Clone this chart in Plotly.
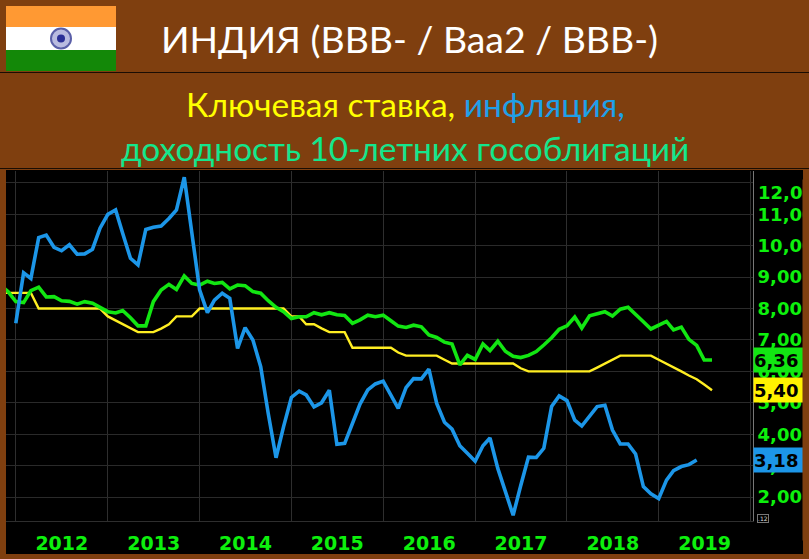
import pandas as pd
import plotly.graph_objects as go

W, H = 809, 559
BROWN = "#7F3F0F"
LINE_GREEN = "#12E612"
LINE_BLUE = "#1C96E8"
LINE_YELLOW = "#FFEE22"
TICK_GREEN = "#0DF00D"

inflation = [
    7.53, 9.14, 8.96, 10.26, 10.34, 9.95, 9.84, 10.03, 9.73, 9.74, 9.89, 10.56,
    11.0, 11.14, 10.4, 9.6, 9.39, 10.52, 10.59, 10.63, 10.87, 11.14, 12.18, 10.4,
    8.6, 7.87, 8.27, 8.49, 8.33, 6.73, 7.39, 7.0, 6.15, 4.66, 3.25, 4.24,
    5.17, 5.37, 5.25, 4.87, 5.0, 5.40, 3.68, 3.71, 4.35, 4.96, 5.41, 5.6,
    5.69, 5.25, 4.82, 5.48, 5.77, 5.76, 6.07, 4.98, 4.38, 4.16, 3.63, 3.39,
    3.14, 3.63, 3.88, 2.91, 2.17, 1.42, 2.36, 3.27, 3.26, 3.55, 4.88, 5.22,
    5.07, 4.45, 4.26, 4.58, 4.88, 4.92, 4.13, 3.69, 3.69, 3.37, 2.33, 2.1,
    1.95, 2.54, 2.84, 2.97, 3.03, 3.18,
]
bond_yield = [
    8.75, 8.54,
    8.22, 8.19, 8.57, 8.68, 8.37, 8.38, 8.25, 8.23, 8.14, 8.22, 8.17, 8.04,
    7.9, 7.86, 7.94, 7.71, 7.45, 7.45, 8.22, 8.59, 8.77, 8.61, 9.04, 8.80,
    8.75, 8.87, 8.8, 8.83, 8.63, 8.75, 8.73, 8.54, 8.49, 8.25, 8.04, 7.9,
    7.68, 7.74, 7.74, 7.87, 7.8, 7.87, 7.8, 7.78, 7.53, 7.64, 7.79, 7.74,
    7.79, 7.61, 7.44, 7.40, 7.47, 7.42, 7.16, 7.08, 6.93, 6.87, 6.21, 6.51,
    6.38, 6.87, 6.66, 6.96, 6.64, 6.48, 6.44, 6.51, 6.63, 6.84, 7.07, 7.34,
    7.45, 7.73, 7.38, 7.77, 7.83, 7.9, 7.76, 7.98, 8.04, 7.83, 7.58, 7.35,
    7.47, 7.59, 7.32, 7.41, 7.02, 6.83, 6.36, 6.36,
]
key_rate = [
    8.5, 8.5,
    8.5, 8.5, 8.5, 8.0, 8.0, 8.0, 8.0, 8.0, 8.0, 8.0, 8.0, 8.0,
    7.75, 7.62, 7.5, 7.36, 7.25, 7.25, 7.25, 7.36, 7.5, 7.75, 7.75, 7.75,
    8.0, 8.0, 8.0, 8.0, 8.0, 8.0, 8.0, 8.0, 8.0, 8.0, 8.0, 8.0,
    7.75, 7.75, 7.5, 7.5, 7.37, 7.25, 7.25, 7.25, 6.75, 6.75, 6.75, 6.75,
    6.75, 6.75, 6.6, 6.5, 6.5, 6.5, 6.5, 6.5, 6.37, 6.25, 6.25, 6.25,
    6.25, 6.25, 6.25, 6.25, 6.25, 6.25, 6.1, 6.0, 6.0, 6.0, 6.0, 6.0,
    6.0, 6.0, 6.0, 6.0, 6.12, 6.25, 6.375, 6.5, 6.5, 6.5, 6.5, 6.5,
    6.37, 6.25, 6.12, 6.0, 5.87, 5.75, 5.58, 5.40,
]
y_ticks = [2, 3, 4, 5, 6, 7, 8, 9, 10, 11, 12]
y_labels = ["2,00", "3,00", "4,00", "5,00", "6,00", "7,00", "8,00", "9,00", "10,00", "11,00", ""]
tags = [("6,36", 6.36, LINE_GREEN), ("5,40", 5.40, "#FFF200"), ("3,18", 3.18, "#1C96E8")]

inflation_dates = pd.date_range("2012-01-01", periods=len(inflation), freq="MS")
other_dates = pd.date_range("2011-11-01", periods=len(bond_yield), freq="MS")


def px(x):
    return x / W


def py(y):
    return 1 - y / H


def rect(x0, y0, x1, y1, color, layer="below"):
    return dict(type="rect", xref="paper", yref="paper", x0=px(x0), x1=px(x1), y0=py(y0), y1=py(y1),
                fillcolor=color, line_width=0, layer=layer)


fig = go.Figure()
fig.add_trace(go.Scatter(x=other_dates, y=key_rate, mode="lines", line=dict(color=LINE_YELLOW, width=2.4)))
fig.add_trace(go.Scatter(x=other_dates, y=bond_yield, mode="lines", line=dict(color=LINE_GREEN, width=3.6)))
fig.add_trace(go.Scatter(x=inflation_dates, y=inflation, mode="lines", line=dict(color=LINE_BLUE, width=3.6)))

shapes = [
    rect(6, 170, 803, 554, "#000000"),
    rect(0, 72, W, 73, "#1a0d03"),
    rect(0, 168, W, 169, "#1a0d03"),
    rect(6, 6, 116, 27, "#FF9933"),
    rect(6, 27, 116, 50, "#FFFFFF"),
    rect(6, 50, 116, 71, "#138808"),
    dict(type="circle", xref="paper", yref="paper", x0=px(51), x1=px(71), y0=py(28.5), y1=py(48.5),
         fillcolor="#B9BBE0", line=dict(color="#5A5FA8", width=2), layer="below"),
    dict(type="circle", xref="paper", yref="paper", x0=px(57), x1=px(65), y0=py(34.5), y1=py(42.5),
         fillcolor="#2A2F96", line_width=0, layer="below"),
]

annotations = [
    dict(text="ИНДИЯ (BBB- / Baa2 / BBB-)", x=px(409), y=py(38), font=dict(size=37.4, color="#FFFFFF")),
    dict(text='<span style="color:#FFFF00">Ключевая ставка, </span><span style="color:#1EA0E8">инфляция,</span>',
         x=px(405), y=py(104), font=dict(size=33.5)),
    dict(text="доходность 10-летних гособлигаций", x=px(405), y=py(148), font=dict(size=33.4, color="#14E68C")),
]
for a in annotations:
    a.update(xref="paper", yref="paper", xanchor="center", yanchor="middle", showarrow=False)
    a["font"]["family"] = "Lato, Carlito, 'Open Sans', sans-serif"

TICK_FONT = dict(family="DejaVu Sans", size=18, color=TICK_GREEN)

annotations.append(dict(text="<b>12,00</b>", xref="paper", yref="paper", x=px(780.5), y=py(192),
                        xanchor="center", yanchor="middle", showarrow=False, width=45, align="left",
                        borderpad=0, font=TICK_FONT))
annotations.append(dict(text=".12", xref="paper", yref="paper", x=px(757), y=py(518), xanchor="left",
                        yanchor="middle", showarrow=False, borderpad=0, borderwidth=1, bordercolor="#777777",
                        font=dict(family="DejaVu Sans", size=6, color="#DDDDDD")))
for text, value, color in tags:
    annotations.append(dict(text=f"<b>{text}</b>", xref="paper", yref="y", x=px(778.5), y=value,
                            xanchor="center", yanchor="middle", showarrow=False, width=49, height=24,
                            align="left", bgcolor=color, borderpad=0,
                            font=dict(family="DejaVu Sans", size=18, color="#000000")))
# brown edge that trims the axis labels
annotations.append(dict(text=" ", xref="paper", yref="paper", x=px(806), y=py(360), xanchor="center",
                        yanchor="middle", showarrow=False, width=6, height=360, bgcolor=BROWN, borderpad=0,
                        font=dict(size=10)))

fig.update_layout(
    width=W, height=H, showlegend=False, paper_bgcolor=BROWN, plot_bgcolor="#000000",
    margin=dict(l=0, r=0, t=0, b=0), shapes=shapes, annotations=annotations,
    xaxis=dict(domain=[px(6), px(753)], range=["2011-11-23", "2020-01-11"], type="date", automargin=False,
               dtick="M12", tick0="2012-01-01", ticklabelmode="period", tickformat="<b>%Y</b>",
               ticklabelstandoff=5, showgrid=True, gridcolor="#2E2E2E", gridwidth=1, zeroline=False,
               showline=True, linecolor="#2E2E2E", ticks="",
               tickfont=dict(family="DejaVu Sans", size=19, color=TICK_GREEN)),
    yaxis=dict(domain=[py(521), py(171)], range=[1.236, 12.38], side="right", tickvals=y_ticks, automargin=False,
               ticktext=[f"<b>{t}</b>" if t else "" for t in y_labels], showgrid=True,
               gridcolor="#2A2A2A", gridwidth=1, zeroline=False, showline=True, linecolor="#777777", ticks="",
               tickfont=TICK_FONT),
)

fig.write_html("out.html", config={"displayModeBar": False}, post_script="document.body.style.margin='0';")
